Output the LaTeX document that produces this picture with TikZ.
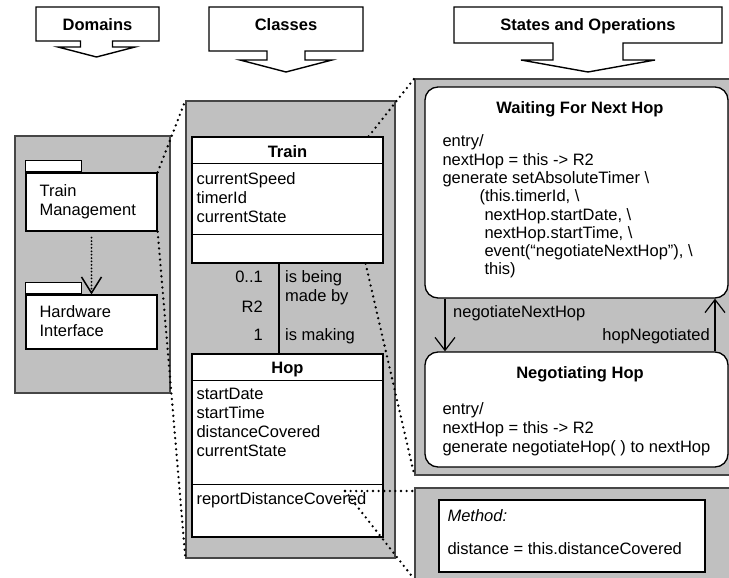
\documentclass[tikz,border=0pt]{standalone}
\usepackage{fontspec}
\setmainfont{Liberation Sans}
\usetikzlibrary{arrows.meta,positioning,calc}
\definecolor{panelgray}{RGB}{192,192,192}
\definecolor{panelline}{RGB}{70,70,70}

\begin{document}
\begin{tikzpicture}[
  x=1pt, y=-1pt,
  font=\fontsize{16.5}{18.6}\selectfont,
  panel/.style={rectangle, draw=panelline, fill=panelgray, line width=1.2pt, inner sep=0pt},
  whitebox/.style={rectangle, draw, fill=white, line width=1.3pt, inner sep=0pt},
  pkgtab/.style={whitebox, minimum width=56pt, minimum height=11.5pt, line width=1.1pt},
  statebox/.style={whitebox, rounded corners=13pt},
  txt/.style={inner sep=0pt, anchor=base west, align=left},
  rtxt/.style={inner sep=0pt, anchor=base east, align=right},
  title/.style={inner sep=0pt, anchor=base, font=\fontsize{16.5}{18.6}\selectfont\bfseries},
  header/.style={draw, fill=white, line width=1.4pt, line join=miter},
  zoomline/.style={line width=2.6pt, line cap=round, dash pattern=on 0pt off 5.6pt},
  trans/.style={line width=1.2pt, -{Straight Barb[length=13pt,width=20pt,line width=1.2pt]}},
  depend/.style={line width=2pt, line cap=round, dash pattern=on 0pt off 3.4pt,
                 -{Straight Barb[length=16pt,width=20pt,line width=1.5pt]}},
  divider/.style={line width=1.3pt},
]
\path[use as bounding box] (0,0) rectangle (729,578);
\clip (0,0) rectangle (729,578);

% Panels
\node[panel, minimum width=155pt, minimum height=257pt] (dompanel) at (92.5,264.5) {};
\node[panel, minimum width=209pt, minimum height=457pt] (clspanel) at (290.5,329.5) {};
\node[panel, minimum width=330pt, minimum height=396pt] (stpanel) at (580,277) {};
\node[panel, minimum width=330pt, minimum height=100pt] (mthpanel) at (580,538) {};

% Headers
\draw[header] (36,7) -- (159,7) -- (159,41) -- (112.5,41) -- (112.5,47) -- (135,47)
  -- (96.5,57) -- (58,47) -- (80.5,47) -- (80.5,41) -- (36,41) -- cycle;
\draw[header] (209,7) -- (363,7) -- (363,51) -- (305,51) -- (305,60) -- (332,60)
  -- (286,72) -- (240,60) -- (267,60) -- (267,51) -- (209,51) -- cycle;
\draw[header] (454,7) -- (722,7) -- (722,43) -- (623,43) -- (623,60) -- (655,60)
  -- (588,72) -- (521,60) -- (553,60) -- (553,43) -- (454,43) -- cycle;
\node[title] (hdom) at (97.5,30.7) {Domains};
\node[title] (hcls) at (286,30.7) {Classes};
\node[title] (hst) at (588,30.7) {States and Operations};

% Domains: packages
\node[whitebox, minimum width=131pt, minimum height=58pt] (tm) at (91.5,202) {};
\node[pkgtab, anchor=south west] (tmtab) at (tm.north west) {};
\node[txt] (tmlabel) at ($(tm.north west)+(14,42.7)$) {Train\\Management};
\node[whitebox, minimum width=131pt, minimum height=54pt] (hi) at (91.5,322) {};
\node[pkgtab, anchor=south west] (hitab) at (hi.north west) {};
\node[txt] (hilabel) at ($(hi.north west)+(14,41.7)$) {Hardware\\Interface};
\draw[depend] ($(tm.south)+(0,6)$) -- (hi.north);

% Classes
\node[whitebox, minimum width=191pt, minimum height=126pt] (train) at (287.5,200) {};
\draw[divider] ($(train.north west)+(0,27)$) -- ($(train.north east)+(0,27)$);
\draw[divider] ($(train.south west)+(0,-29)$) -- ($(train.south east)+(0,-29)$);
\node[title] (traintitle) at ($(train.north)+(0,20.7)$) {Train};
\node[txt] (trainattr) at ($(train.north west)+(5,85.7)$) {currentSpeed\\timerId\\currentState};

\node[whitebox, minimum width=191pt, minimum height=183pt] (hop) at (287.5,445.5) {};
\draw[divider] ($(hop.north west)+(0,27)$) -- ($(hop.north east)+(0,27)$);
\draw[divider] ($(hop.south west)+(0,-53)$) -- ($(hop.south east)+(0,-53)$);
\node[title] (hoptitle) at ($(hop.north)+(0,19.7)$) {Hop};
\node[txt, font=\fontsize{16.5}{19}\selectfont] (hopattr) at ($(hop.north west)+(5,103.5)$)
  {startDate\\startTime\\distanceCovered\\currentState};
\node[txt] (hopop) at ($(hop.south west)+(5,-33.5)$) {reportDistanceCovered};

% Association R2
\coordinate (rtwo) at (279,300);
\draw[line width=1.2pt] (train.south -| rtwo) -- (hop.north -| rtwo);
\node[rtxt] (multa) at (263,282.7) {0..1};
\node[rtxt] (rname) at (263,312.7) {R2};
\node[rtxt] (multb) at (263,340.7) {1};
\node[txt] (phrasea) at (285,301.5) {is being\\made by};
\node[txt] (phraseb) at (285,340.7) {is making};

% States
\node[statebox, minimum width=303pt, minimum height=211pt] (waiting) at (576.5,192.5) {};
\node[title] (waittitle) at ($(waiting.north)+(3.5,26.7)$) {Waiting For Next Hop};
\node[txt, font=\fontsize{16.5}{18.3}\selectfont] (waitbody) at ($(waiting.north west)+(18,188.6)$) {entry/\\
  nextHop = this -> R2\\
  generate setAbsoluteTimer \textbackslash\\
  \hspace*{37pt}(this.timerId, \textbackslash\\
  \hspace*{42pt}nextHop.startDate, \textbackslash\\
  \hspace*{42pt}nextHop.startTime, \textbackslash\\
  \hspace*{42pt}event(“negotiateNextHop”), \textbackslash\\
  \hspace*{42pt}this)};

\node[statebox, minimum width=303pt, minimum height=115pt] (negotiating) at (576.5,409.5) {};
\node[title] (negtitle) at ($(negotiating.north)+(3.5,26.7)$) {Negotiating Hop};
\node[txt] (negbody) at ($(negotiating.north west)+(18,100.7)$) {entry/\\
  nextHop = this -> R2\\
  generate negotiateHop( ) to nextHop};

% Transitions
\coordinate (tleft) at (445,320);
\coordinate (tright) at (715,320);
\draw[trans] (waiting.south -| tleft) -- (negotiating.north -| tleft);
\draw[trans] (negotiating.north -| tright) -- (waiting.south -| tright);
\node[txt] (evnext) at (453,317.5) {negotiateNextHop};
\node[rtxt] (evdone) at (710,340.5) {hopNegotiated};

% Method
\node[whitebox, minimum width=266pt, minimum height=72pt] (method) at (572,536) {};
\node[txt, font=\fontsize{16.5}{18.6}\selectfont\itshape] (mthtitle) at ($(method.north west)+(9,22.5)$) {Method:};
\node[txt] (mthbody) at ($(method.north west)+(9,55.5)$) {distance = this.distanceCovered};

% Zoom lines
\coordinate (rdc) at (345,491);
\draw[zoomline] (tm.north east) -- (clspanel.north west);
\draw[zoomline] (tm.south east) -- (clspanel.south west);
\draw[zoomline] ($(train.north east)+(-15,0)$) -- (stpanel.north west);
\draw[zoomline] ($(train.south east)+(-18,0)$) -- (stpanel.south west);
\draw[zoomline] (rdc) -- (rdc -| mthpanel.west);
\draw[zoomline] (rdc) -- ($(mthpanel.north west)+(0,92)$);

\end{tikzpicture}
\end{document}
